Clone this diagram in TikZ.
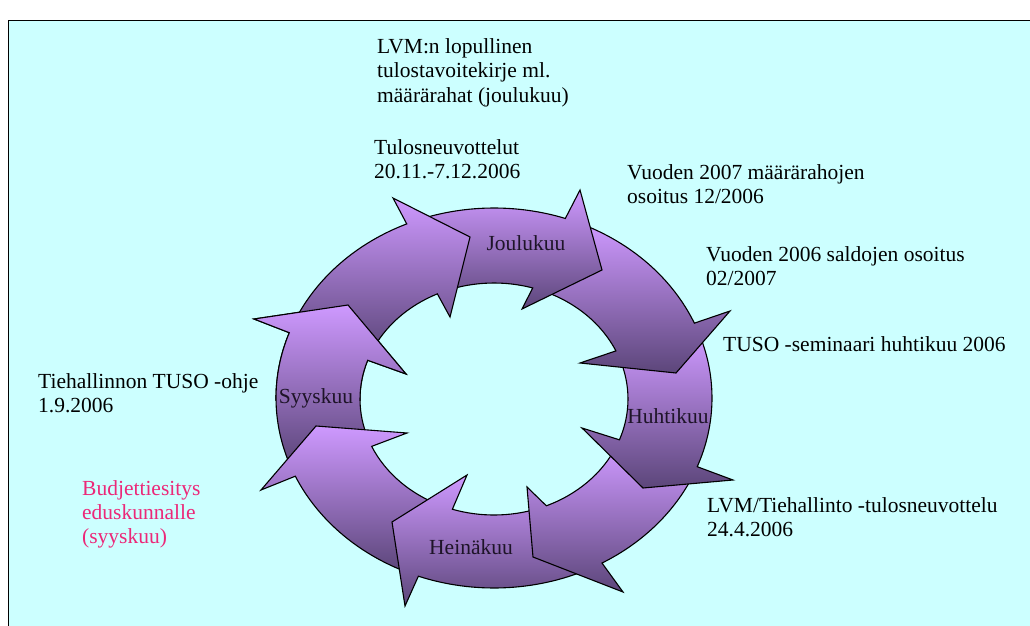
\documentclass[tikz,border=0pt]{standalone}
\usepackage{fontspec}
\setmainfont{Liberation Serif}
\definecolor{panelbg}{RGB}{204,255,255}
\definecolor{lilaclight}{RGB}{206,153,255}
\definecolor{lilacdark}{RGB}{92,70,122}
\definecolor{notepink}{RGB}{236,40,120}
\definecolor{monthtext}{RGB}{30,20,40}
\tikzset{
  arrowbody/.style={top color=lilaclight, bottom color=lilacdark, draw=black, line width=1.1pt, line join=miter},
  note/.style={anchor=base west, inner sep=0pt, font=\fontsize{21.5}{24}\selectfont},
  month/.style={inner sep=0pt, text=monthtext, font=\fontsize{21.5}{24}\selectfont}
}
% lines of a note, its baseline being that of the first line
\newcommand\notelines[1]{\vtop{\baselineskip=24pt #1}}
% one ring segment: outer tail angle, inner tail angle, outer base angle,
% inner base angle, outer barb, tip, inner barb
\newcommand\ringarrow[7]{%
  \path[arrowbody] ({494+218*cos(#1)},{398+190*sin(#1)})
    arc[start angle=#1, end angle=#3, x radius=218, y radius=190]
    -- #5 -- #6 -- #7
    -- ({494+134*cos(#4)},{399+116*sin(#4)})
    arc[start angle=#4, end angle=#2, x radius=134, y radius=116] -- cycle;}
\begin{document}
\begin{tikzpicture}[x=1pt, y=-1pt]
\useasboundingbox (0,0) rectangle (1030,626);
\fill[white] (0,0) rectangle (1030,626);
\fill[panelbg] (8,21) rectangle (1030,626);
\draw[line width=1pt] (8,626) -- (8,21) -- (1030,21);

% cycle of eight arrows, each head lying over the next one's tail
\ringarrow{159.7}{159.9}{200.1}{199.5}{(254,319)}{(348,305)}{(406,374)}% Syyskuu
\ringarrow{114.3}{112.1}{155.7}{155.9}{(261,490)}{(316,426)}{(407,433)}
\ringarrow{64.3}{71}{110.3}{108.1}{(405,606)}{(392,522)}{(467,475)}% Heinakuu
\ringarrow{25.2}{24.6}{60.3}{67}{(623,592)}{(533,557)}{(527,487)}
\ringarrow{340.8}{339.5}{381.2}{380.6}{(733,480)}{(643,488)}{(582,428)}% Huhtikuu
\ringarrow{293}{291}{336.8}{335.5}{(730,311)}{(676,373)}{(580,363)}
\ringarrow{250.4}{249}{289.1}{286.8}{(580,190)}{(602,270)}{(522,309)}% Joulukuu
\ringarrow{204}{203.5}{246.4}{245}{(393,198)}{(470,237)}{(450,317)}
% Syyskuu head over the tail of the upper-left arrow
\begin{scope}
  \clip (240,288) rectangle (425,400);
  \ringarrow{159.7}{159.9}{200.1}{199.5}{(254,319)}{(348,305)}{(406,374)}
\end{scope}

\node[month] (joulu) at (526,243) {Joulukuu};
\node[month] (huhti) at (668,416) {Huhtikuu};
\node[month] (heina) at (471,547) {Heinäkuu};
\node[month] (syys) at (316,398) {Syyskuu};

\node[note] (lvm) at (377,54) {\notelines{\hbox{LVM:n lopullinen}\hbox{tulostavoitekirje ml.}\hbox{määrärahat (joulukuu)}}};
\node[note] (neuv) at (374,154) {\notelines{\hbox{Tulosneuvottelut}\hbox{20.11.-7.12.2006}}};
\node[note] (maar) at (627,179) {\notelines{\hbox{Vuoden 2007 määrärahojen}\hbox{osoitus 12/2006}}};
\node[note] (saldo) at (706,261) {\notelines{\hbox{Vuoden 2006 saldojen osoitus}\hbox{02/2007}}};
\node[note] (semi) at (723,351) {TUSO -seminaari huhtikuu 2006};
\node[note] (lvmth) at (707,512) {\notelines{\hbox{LVM/Tiehallinto -tulosneuvottelu}\hbox{24.4.2006}}};
\node[note] (ohje) at (38,388) {\notelines{\hbox{Tiehallinnon TUSO -ohje}\hbox{1.9.2006}}};
\node[note, text=notepink] (budj) at (82,495) {\notelines{\hbox{Budjettiesitys}\hbox{eduskunnalle}\hbox{(syyskuu)}}};
\end{tikzpicture}
\end{document}
